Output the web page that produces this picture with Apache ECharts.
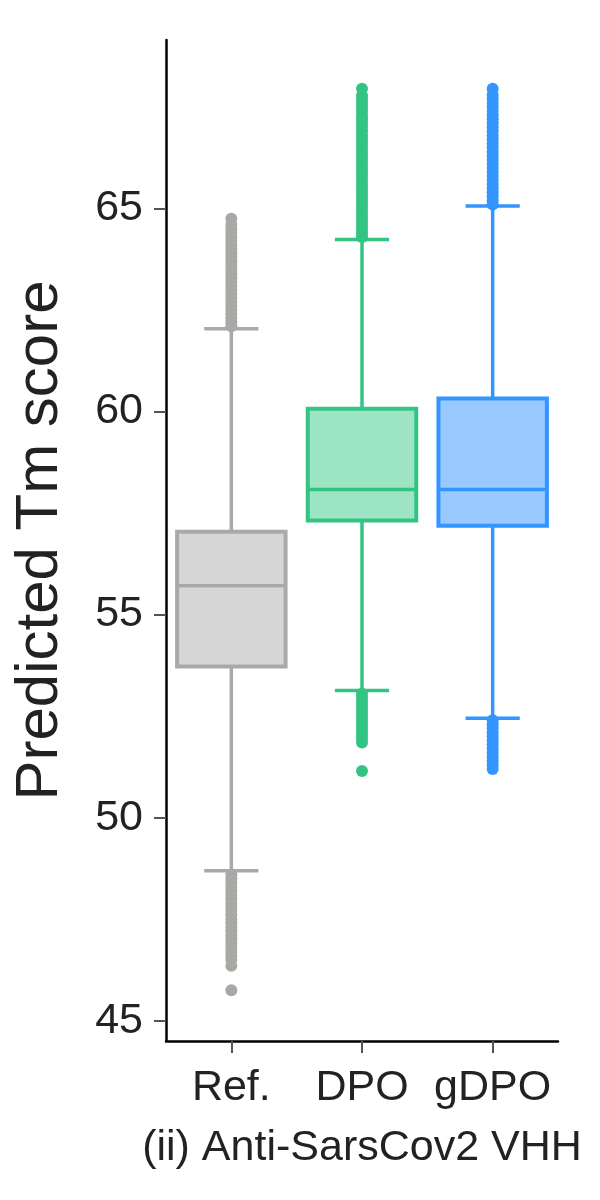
<!DOCTYPE html>
<html>
<head>
<meta charset="utf-8">
<script src="https://cdn.jsdelivr.net/npm/echarts@6/dist/echarts.min.js"></script>
<style>
  html, body { margin: 0; padding: 0; background: #fff; }
  #chart { width: 600px; height: 1200px; }
</style>
</head>
<body>
<div id="chart"></div>
<script>
// groups and box statistics
const categories = ['Ref.', 'DPO', 'gDPO']
const whiskerLow = [48.69, 53.13, 52.45]
const q1 = [53.72, 57.32, 57.19]
const median = [55.71, 58.08, 58.08]
const q3 = [57.04, 60.07, 60.32]
const whiskerHigh = [62.04, 64.24, 65.06]
const yTicks = [45, 50, 55, 60, 65]

// outliers per group
const refOutliers = [
  62.1, 62.2, 62.3, 62.4, 62.5, 62.6, 62.7, 62.8, 62.9, 63.0, 63.1, 63.2, 63.3, 63.4,
  63.5, 63.6, 63.7, 63.8, 63.9, 64.0, 64.1, 64.2, 64.3, 64.4, 64.5, 64.6, 64.75,
  48.6, 48.5, 48.4, 48.3, 48.2, 48.1, 48.0, 47.9, 47.8, 47.7, 47.6, 47.5, 47.4, 47.3,
  47.2, 47.1, 47.0, 46.9, 46.8, 46.7, 46.6, 46.5, 46.35, 45.75
]
const dpoOutliers = [
  64.3, 64.4, 64.5, 64.6, 64.7, 64.8, 64.9, 65.0, 65.1, 65.2, 65.3, 65.4, 65.5, 65.6,
  65.7, 65.8, 65.9, 66.0, 66.1, 66.2, 66.3, 66.4, 66.5, 66.6, 66.7, 66.8, 66.9, 67.0,
  67.1, 67.2, 67.3, 67.4, 67.5, 67.6, 67.7, 67.78, 67.95,
  53.05, 52.95, 52.85, 52.75, 52.65, 52.55, 52.45, 52.35, 52.25, 52.15, 52.05, 51.95,
  51.85, 51.15
]
const gdpoOutliers = [
  65.1, 65.2, 65.3, 65.4, 65.5, 65.6, 65.7, 65.8, 65.9, 66.0, 66.1, 66.2, 66.3, 66.4,
  66.5, 66.6, 66.7, 66.8, 66.9, 67.0, 67.1, 67.2, 67.3, 67.4, 67.5, 67.6, 67.7, 67.8,
  67.95,
  52.4, 52.3, 52.2, 52.1, 52.0, 51.9, 51.8, 51.7, 51.6, 51.5, 51.4, 51.3, 51.2
]

const lineColors = ['#a9a9a9', '#33c483', '#3395ff']
const fillColors = ['#d6d6d6', '#9ce4c4', '#99caff']
const dotColors = ['#a8a9a5', '#33c483', '#3395ff']
const FONT = '"Liberation Sans", Arial, sans-serif'

var chart = echarts.init(document.getElementById('chart'))

const boxData = categories.map((c, i) => [i, whiskerLow[i], q1[i], median[i], q3[i], whiskerHigh[i]])

function renderBox(params, api) {
  const i = api.value(0)
  const band = api.size([1, 0])[0]
  const boxW = band * 0.83
  const capW = boxW / 2
  const lo = api.coord([i, api.value(1)])
  const b1 = api.coord([i, api.value(2)])
  const md = api.coord([i, api.value(3)])
  const b3 = api.coord([i, api.value(4)])
  const hi = api.coord([i, api.value(5)])
  const cx = lo[0]
  const lw = 3.5
  const stroke = lineColors[i]
  return {
    type: 'group',
    children: [
      { type: 'line', shape: { x1: cx, y1: hi[1], x2: cx, y2: b3[1] }, style: { stroke, lineWidth: lw } },
      { type: 'line', shape: { x1: cx, y1: b1[1], x2: cx, y2: lo[1] }, style: { stroke, lineWidth: lw } },
      { type: 'line', shape: { x1: cx - capW / 2, y1: hi[1], x2: cx + capW / 2, y2: hi[1] }, style: { stroke, lineWidth: lw } },
      { type: 'line', shape: { x1: cx - capW / 2, y1: lo[1], x2: cx + capW / 2, y2: lo[1] }, style: { stroke, lineWidth: lw } },
      { type: 'rect', shape: { x: cx - boxW / 2, y: b3[1], width: boxW, height: b1[1] - b3[1] },
        style: { fill: fillColors[i], stroke, lineWidth: 4 } },
      { type: 'line', shape: { x1: cx - boxW / 2, y1: md[1], x2: cx + boxW / 2, y2: md[1] }, style: { stroke, lineWidth: 3.5 } }
    ]
  }
}

const outlierSets = [refOutliers, dpoOutliers, gdpoOutliers]
const scatterSeries = outlierSets.map((arr, i) => ({
  type: 'scatter',
  data: arr.map(v => [i, v]),
  symbolSize: 12,
  itemStyle: { color: dotColors[i], opacity: 1 },
  z: 3,
  silent: true
}))

chart.setOption({
  animation: false,
  grid: { left: 166, right: 42, top: 40, bottom: 159 },
  xAxis: {
    type: 'category',
    data: categories,
    boundaryGap: true,
    name: '(ii) Anti-SarsCov2 VHH',
    nameLocation: 'middle',
    nameGap: 86,
    nameTextStyle: { fontSize: 43, color: '#222', fontFamily: FONT },
    axisLine: { lineStyle: { color: '#000', width: 2.5 } },
    axisTick: { show: true, interval: 0, alignWithLabel: true, length: 12, lineStyle: { color: '#555', width: 2 } },
    axisLabel: { interval: 0, fontSize: 43, color: '#222', fontFamily: FONT, margin: 26, hideOverlap: false },
    splitLine: { show: false }
  },
  yAxis: {
    type: 'value',
    min: 44.5,
    max: 69.15,
    name: 'Predicted Tm score',
    nameLocation: 'middle',
    nameGap: 96,
    nameTextStyle: { fontSize: 60, color: '#222', fontFamily: FONT },
    axisLine: { show: true, lineStyle: { color: '#000', width: 2.5 } },
    axisTick: { show: true, length: 12, customValues: yTicks, lineStyle: { color: '#555', width: 2 } },
    axisLabel: { fontSize: 43, color: '#222', fontFamily: FONT, margin: 23, customValues: yTicks },
    splitLine: { show: false }
  },
  series: [
    ...scatterSeries,
    {
      type: 'custom',
      data: boxData,
      renderItem: renderBox,
      encode: { x: 0, y: [1, 2, 3, 4, 5] },
      z: 4,
      silent: true
    }
  ]
})
</script>
</body>
</html>
